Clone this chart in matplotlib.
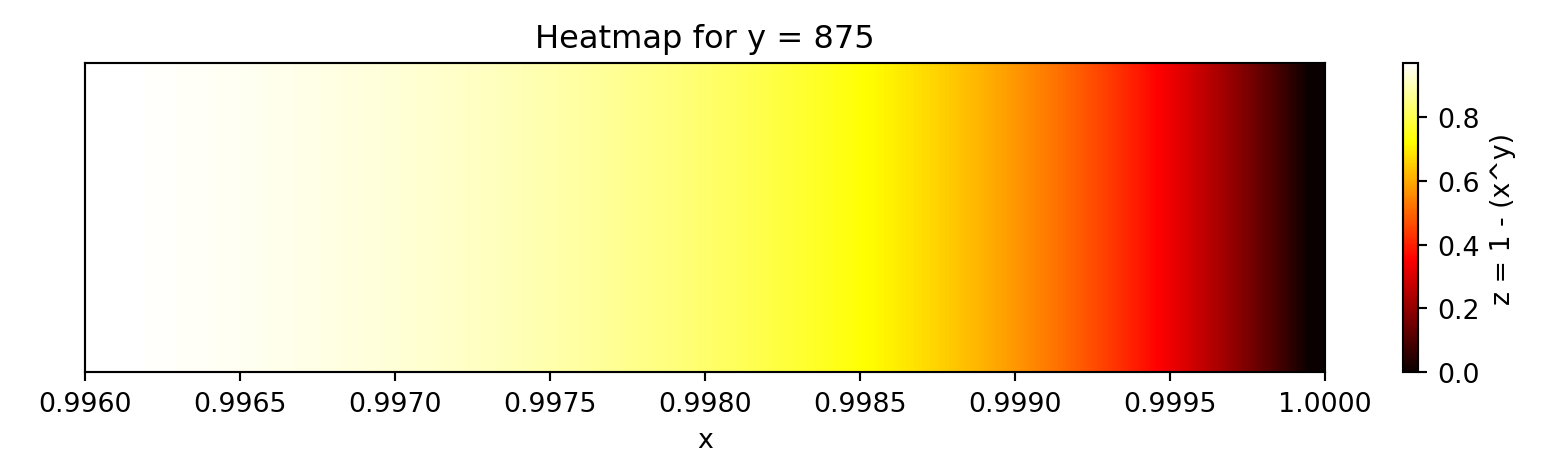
import numpy as np
import matplotlib
matplotlib.use('Agg')
import matplotlib.pyplot as plt

y_val = 875

# x samples and z values read along the gradient
x_vals = [0.9960, 0.9961, 0.9962, 0.9963, 0.9964, 0.9965, 0.9966, 0.9967, 0.9968, 0.9969,
          0.9970, 0.9971, 0.9972, 0.9973, 0.9974, 0.9975, 0.9976, 0.9977, 0.9978, 0.9979,
          0.9980, 0.9981, 0.9982, 0.9983, 0.9984, 0.9985, 0.9986, 0.9987, 0.9988, 0.9989,
          0.9990, 0.9991, 0.9992, 0.9993, 0.9994, 0.9995, 0.9996, 0.9997, 0.9998, 0.9999,
          1.0000]
z_vals = [0.9700, 0.9673, 0.9642, 0.9610, 0.9574, 0.9535, 0.9492, 0.9445, 0.9394, 0.9339,
          0.9278, 0.9212, 0.9140, 0.9061, 0.8975, 0.8881, 0.8778, 0.8666, 0.8544, 0.8411,
          0.8265, 0.8106, 0.7932, 0.7743, 0.7537, 0.7311, 0.7065, 0.6796, 0.6503, 0.6183,
          0.5833, 0.5452, 0.5035, 0.4581, 0.4085, 0.3544, 0.2954, 0.2309, 0.1606, 0.0838,
          0.0000]
x_ticks = [0.9960, 0.9965, 0.9970, 0.9975, 0.9980, 0.9985, 0.9990, 0.9995, 1.0000]

dpi = 193
fig = plt.figure(figsize=(1552/dpi, 474/dpi), dpi=dpi)
ax = fig.add_axes([85/1552, 1-373/474, (1325-85)/1552, (373-64)/474])
cax = fig.add_axes([1403/1552, 1-373/474, 15/1552, (373-64)/474])

z = np.array(z_vals)[np.newaxis, :]
im = ax.imshow(z, cmap='hot', aspect='auto', interpolation='bilinear',
               extent=[x_vals[0], x_vals[-1], 0, 1], origin='lower',
               vmin=0, vmax=max(z_vals))
ax.set_xlim(x_vals[0], x_vals[-1])
ax.set_xticks(x_ticks)
ax.set_xticklabels(['%.4f' % t for t in x_ticks])
ax.set_yticks([])
ax.set_xlabel('x')
ax.set_title('Heatmap for y = %d' % y_val)

cb = fig.colorbar(im, cax=cax)
cb.set_label('z = 1 - (x^y)')

fig.savefig('out.png', dpi=dpi)
